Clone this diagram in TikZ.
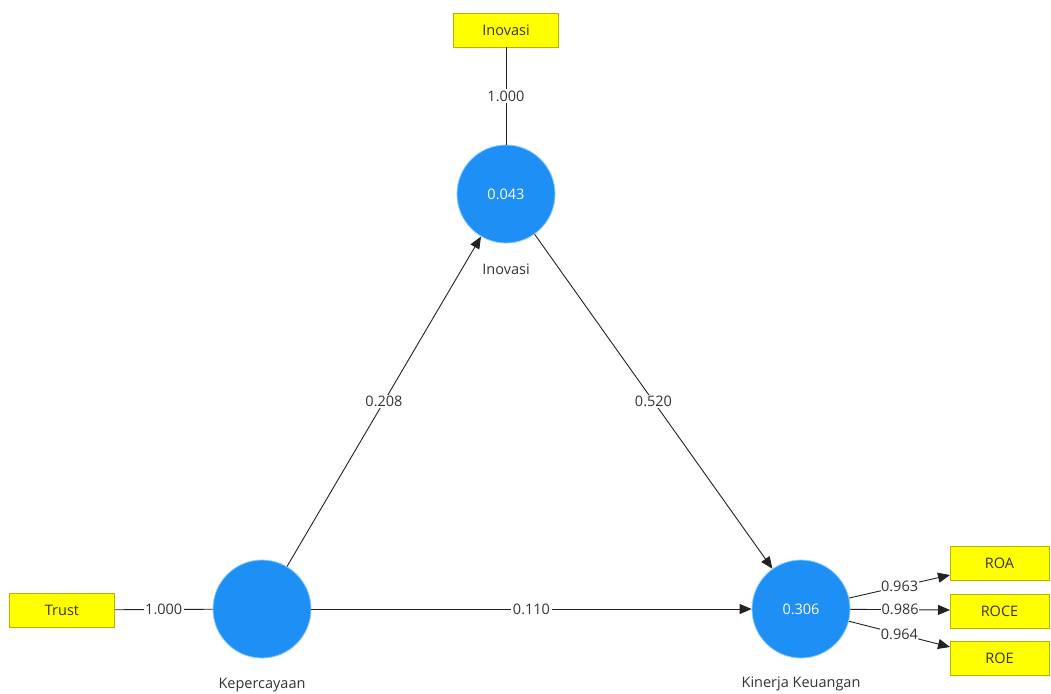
\documentclass[tikz,border=0pt]{standalone}
\usepackage{fontspec}
\setmainfont{Open Sans}
\usetikzlibrary{arrows.meta}
\definecolor{lvblue}{HTML}{1E8FF5}
\definecolor{lvedge}{HTML}{8CCBFF}
\definecolor{indfill}{HTML}{FFFF00}
\definecolor{indedge}{HTML}{B5B500}
\definecolor{txt}{HTML}{333333}
\definecolor{linec}{HTML}{222222}
\begin{document}
\begin{tikzpicture}[x=1pt,y=-1pt,
  font=\fontsize{14.5}{17}\selectfont,
  lv/.style={circle,fill=lvblue,draw=lvedge,line width=0.8pt,minimum size=98pt,inner sep=0pt,text=white},
  ind/.style={rectangle,fill=indfill,draw=indedge,line width=0.8pt,minimum height=34pt,inner sep=0pt,text=txt},
  lbl/.style={fill=white,inner sep=1.5pt,text=txt},
  captext/.style={text=txt},
  conn/.style={draw=linec,line width=0.9pt},
  arr/.style={conn,-{Triangle[length=12pt,width=10pt]}}]
\useasboundingbox (0,0) rectangle (1051,693);
\fill[white] (0,0) rectangle (1051,693);
% latent variables
\node[lv] (inov) at (506,194) {0.043};
\node[lv] (kep) at (262,609) {};
\node[lv] (kin) at (801,609) {0.306};
\node[captext] (inovlab) at (506,269) {Inovasi};
\node[captext] (keplab) at (262,685) {Kepercayaan};
\node[captext] (kinlab) at (801,684) {Kinerja Keuangan};
% indicators
\node[ind,minimum width=105pt] (inovbox) at (506,30) {Inovasi};
\node[ind,minimum width=105pt] (trust) at (62,610) {Trust};
\node[ind,minimum width=99pt] (roa) at (999.5,563) {ROA};
\node[ind,minimum width=99pt] (roce) at (999.5,611) {ROCE};
\node[ind,minimum width=99pt] (roe) at (999.5,658.5) {ROE};
\coordinate (ta) at (950,575);
\coordinate (tc) at (950,610);
\coordinate (te) at (950,647);
% connectors
\draw[conn] (inovbox) -- node[lbl]{1.000} (inov);
\draw[conn] (trust) -- node[lbl]{1.000} (kep);
\draw[arr] (kep) -- node[lbl]{0.208} (inov);
\draw[arr] (inov) -- node[lbl]{0.520} (kin);
\draw[arr] (kep) -- node[lbl]{0.110} (kin);
\draw[arr] (kin) -- node[lbl,inner sep=0.5pt]{0.963} (ta);
\draw[arr] (kin) -- node[lbl,inner sep=0.5pt]{0.986} (tc);
\draw[arr] (kin) -- node[lbl,inner sep=0.5pt]{0.964} (te);
\end{tikzpicture}
\end{document}
